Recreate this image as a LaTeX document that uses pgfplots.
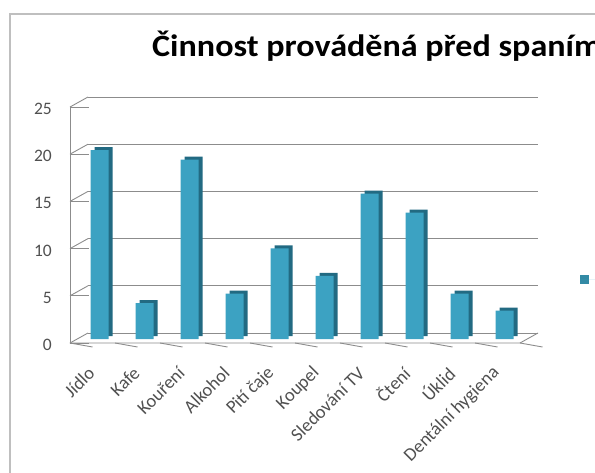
\documentclass[border=0pt]{standalone}
\usepackage{fontspec}
\setmainfont{Carlito}
\usepackage{pgfplots}
\pgfplotsset{compat=1.18}
\definecolor{barface}{RGB}{60,162,194}
\definecolor{barside}{RGB}{34,106,130}
\definecolor{gridc}{RGB}{140,140,140}
\definecolor{txt}{RGB}{80,80,80}
\begin{document}
\begin{tikzpicture}
\path[use as bounding box] (0,0) rectangle (595bp,473bp);
\draw[gray!50, line width=1.2bp] (10bp,0) -- (10bp,459bp) -- (600bp,459bp);
\node[anchor=base west, font=\fontsize{31bp}{36bp}\selectfont\bfseries, inner sep=0pt] at (152bp,416bp) {\scalebox{1.10}[1]{Činnost prováděná před spaním}};
\begin{axis}[
  at={(88bp,140bp)}, anchor=south west, scale only axis,
  width=450bp, height=236bp,
  xmin=-0.5, xmax=9.5, ymin=0, ymax=25,
  ytick={0,5,...,25}, xtick={0,...,9},
  xticklabels={Jídlo,Kafe,Kouření,Alkohol,Pití čaje,Koupel,Sledování TV,Čtení,Úklid,Dentální hygiena},
  axis line style={draw=none}, major tick length=0pt,
  ymajorgrids, grid style={gridc, line width=0.9bp},
  /pgf/number format/assume math mode=true,
  tick label style={font=\fontsize{17.5bp}{20bp}\selectfont, text=txt},
  yticklabel style={anchor=east, inner sep=0pt, xshift=-36bp, yshift=-12bp},
  xticklabel style={xshift=-19bp, yshift=-37bp, rotate=45, anchor=east, inner sep=0pt,
    font=\fontsize{18.5bp}{20bp}\selectfont},
  clip=false,
  legend style={draw=none, fill=none, at={(1.093,0.25)}, anchor=west, inner sep=0pt,
    font=\fontsize{17.5bp}{20bp}\selectfont, text=txt},
  legend image code/.code={\fill[barface!85!black] (0bp,-4.5bp) rectangle (9bp,4.5bp); \path (0bp,0bp) -- (18bp,0bp);},
]
% floor and left wall
\draw[gridc, line width=0.9bp] ([shift={(-18bp,-10bp)}]axis cs:-0.5,0) -- ([shift={(-18bp,-10bp)}]axis cs:9.5,0) -- (axis cs:9.5,0);
\draw[gridc, line width=0.9bp] ([shift={(-18bp,-10bp)}]axis cs:-0.5,0) -- ([shift={(-18bp,-10bp)}]axis cs:-0.5,25);
\pgfplotsinvokeforeach{0,5,10,15,20,25}{
  \draw[gridc, line width=0.9bp] ([shift={(-18bp,-10bp)}]axis cs:-0.5,#1) -- (axis cs:-0.5,#1);
  \draw[gridc, line width=0.9bp] ([shift={(-18bp,-10bp)}]axis cs:-0.5,#1) -- ++(-4bp,0);
}
\pgfplotsinvokeforeach{-0.5,0.5,1.5,2.5,3.5,4.5,5.5,6.5,7.5,8.5,9.5}{
  \draw[gridc, line width=0.9bp] ([shift={(-18bp,-10bp)}]axis cs:#1,0) -- ++(0,-4bp);
}
\addplot[ybar, bar width=18bp, bar shift=-7bp, yshift=-3bp, fill=barside, draw=none, forget plot]
  coordinates {(0,20) (1,3.8) (2,19) (3,4.8) (4,9.6) (5,6.7) (6,15.4) (7,13.4) (8,4.8) (9,3.0)};
\addplot[ybar, bar width=18bp, bar shift=-11bp, yshift=-6bp, fill=barface, draw=none]
  coordinates {(0,20) (1,3.8) (2,19) (3,4.8) (4,9.6) (5,6.7) (6,15.4) (7,13.4) (8,4.8) (9,3.0)};
\legend{Řada1}
\end{axis}
\end{tikzpicture}
\end{document}
